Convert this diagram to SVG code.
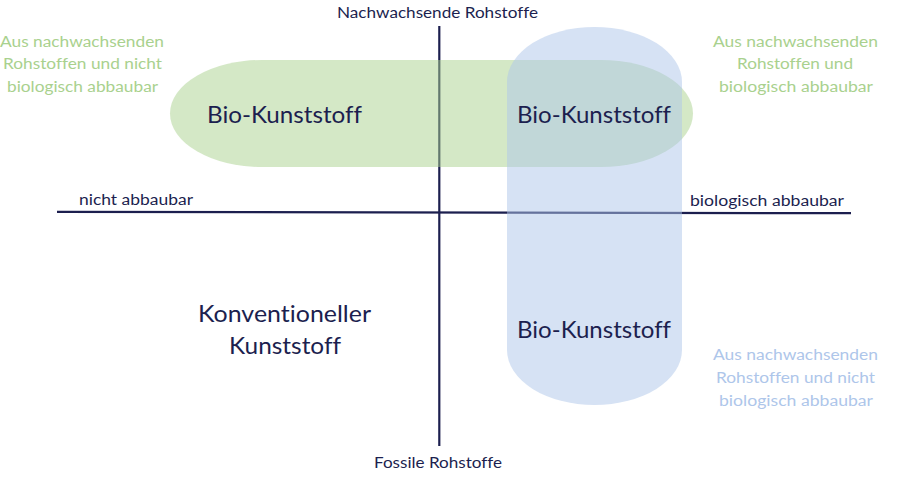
<svg xmlns="http://www.w3.org/2000/svg" width="908" height="480" viewBox="0 0 908 480">
<style>
text{font-family:Lato,"Open Sans","Liberation Sans",sans-serif;text-anchor:middle;font-variant-ligatures:none}
.navy{fill:#1c1f4f}
.big{font-size:24px}
.ax{font-size:14.5px}
.gl{font-size:15.5px;fill:#a9d18e}
.bl{font-size:15.5px;fill:#aec6ea}
.axis{stroke:#1c1f4f;stroke-width:2.2;fill:none}
.green{fill:#a9d18e;fill-opacity:0.5}
.blue{fill:#adc5e9;fill-opacity:0.5}
</style>
<rect width="908" height="480" fill="#ffffff"/>
<g id="connectors">
<line class="axis" x1="57" y1="211.8" x2="851" y2="213.2"/>
<line class="axis" x1="439.3" y1="26" x2="439.3" y2="446"/>
</g>
<g id="node-green">
<rect class="green" x="170" y="60" width="523" height="107" rx="92" ry="53.5"/>
<text class="navy big" x="284.5" y="123" textLength="155" lengthAdjust="spacingAndGlyphs">Bio-Kunststoff</text>
</g>
<g id="node-blue">
<rect class="blue" x="507" y="27" width="175" height="378" rx="87.5" ry="55"/>
<text class="navy big" x="594" y="123" textLength="154" lengthAdjust="spacingAndGlyphs">Bio-Kunststoff</text>
<text class="navy big" x="594" y="338" textLength="154" lengthAdjust="spacingAndGlyphs">Bio-Kunststoff</text>
</g>
<g id="node-conventional">
<text class="navy big" x="284.5" y="322" textLength="173" lengthAdjust="spacingAndGlyphs">Konventioneller</text>
<text class="navy big" x="285" y="354" textLength="112" lengthAdjust="spacingAndGlyphs">Kunststoff</text>
</g>
<g id="axis-labels">
<text class="navy ax" x="437.5" y="18" textLength="201" lengthAdjust="spacingAndGlyphs">Nachwachsende Rohstoffe</text>
<text class="navy ax" x="438" y="468" textLength="128" lengthAdjust="spacingAndGlyphs">Fossile Rohstoffe</text>
<text class="navy ax" x="136" y="204.5" textLength="114" lengthAdjust="spacingAndGlyphs">nicht abbaubar</text>
<text class="navy ax" x="767" y="206" textLength="154" lengthAdjust="spacingAndGlyphs">biologisch abbaubar</text>
</g>
<g id="label-top-left">
<text class="gl" x="82" y="47" textLength="164" lengthAdjust="spacingAndGlyphs">Aus nachwachsenden</text>
<text class="gl" x="82.5" y="69.3" textLength="159" lengthAdjust="spacingAndGlyphs">Rohstoffen und nicht</text>
<text class="gl" x="82.5" y="91.7" textLength="151" lengthAdjust="spacingAndGlyphs">biologisch abbaubar</text>
</g>
<g id="label-top-right">
<text class="gl" x="795.5" y="47" textLength="165" lengthAdjust="spacingAndGlyphs">Aus nachwachsenden</text>
<text class="gl" x="795" y="69.3" textLength="116" lengthAdjust="spacingAndGlyphs">Rohstoffen und</text>
<text class="gl" x="796" y="91.7" textLength="154" lengthAdjust="spacingAndGlyphs">biologisch abbaubar</text>
</g>
<g id="label-bottom-right">
<text class="bl" x="795.5" y="360" textLength="165" lengthAdjust="spacingAndGlyphs">Aus nachwachsenden</text>
<text class="bl" x="795.5" y="382.7" textLength="159" lengthAdjust="spacingAndGlyphs">Rohstoffen und nicht</text>
<text class="bl" x="796" y="405.5" textLength="154" lengthAdjust="spacingAndGlyphs">biologisch abbaubar</text>
</g>
</svg>
